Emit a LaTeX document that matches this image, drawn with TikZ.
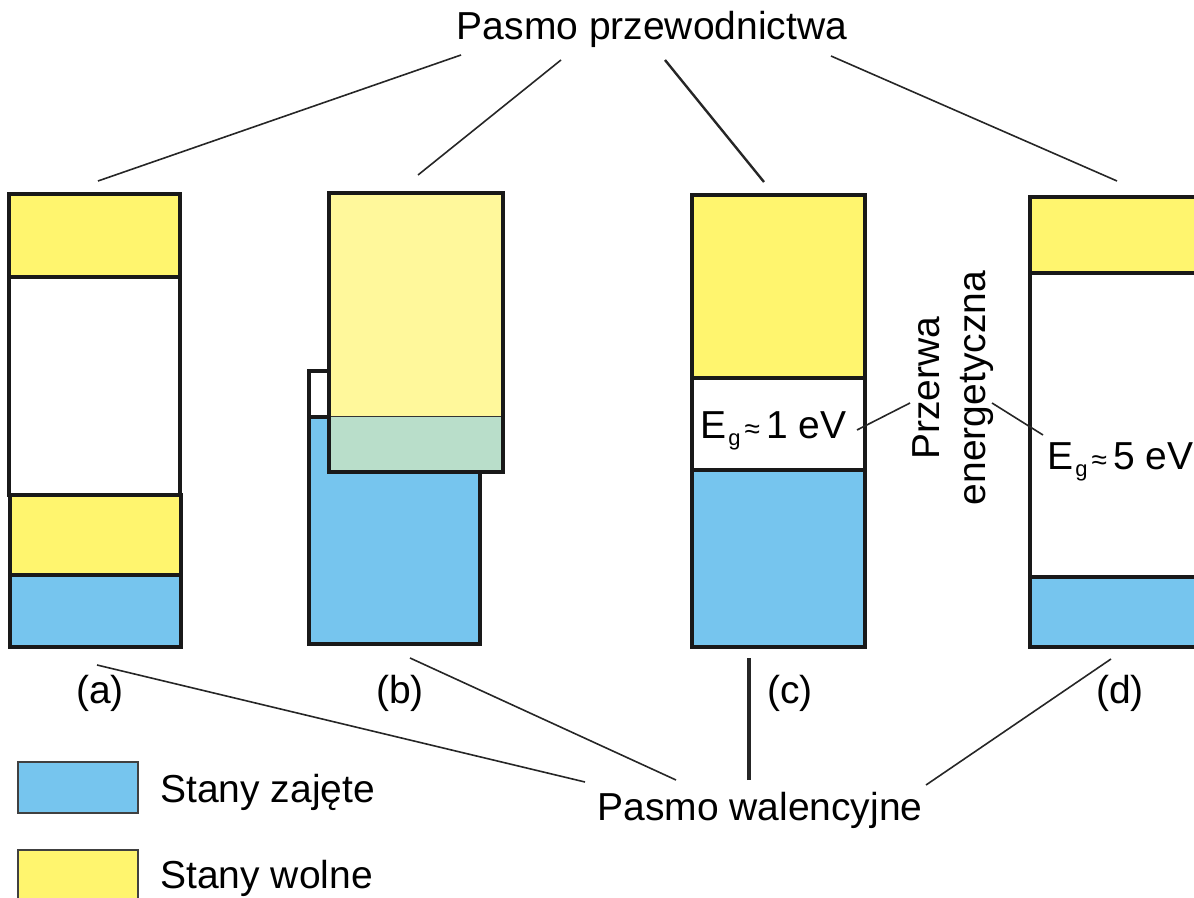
\documentclass[tikz,border=0pt]{standalone}
\usepackage{fontspec}
\setmainfont{Liberation Sans}
\usetikzlibrary{positioning}

\definecolor{freeyellow}{RGB}{255,245,110}
\definecolor{paleyellow}{RGB}{255,248,155}
\definecolor{mixgreen}{RGB}{185,222,202}
\definecolor{fullblue}{RGB}{118,197,238}

\newcommand{\gapsub}{\kern1pt\raisebox{-3.5pt}{\fontsize{11}{11}\selectfont g}\kern2pt{\fontsize{14}{14}\selectfont≈}\kern3pt}

\tikzset{
  band/.style={draw=black!90, line width=1.6pt},
  lead/.style={draw=black!85, line width=0.8pt},
  keybox/.style={draw=black!75, line width=0.8pt},
  txt/.style={font=\fontsize{19.5}{23}\selectfont, inner sep=0pt},
}

\begin{document}
\begin{tikzpicture}[x=0.5pt,y=-0.5pt]
  \clip (0,0) rectangle (1194,898);

  % (a)
  \draw[band, fill=freeyellow] (9,194)  rectangle (180,277);
  \draw[band, fill=white]      (9,277)  rectangle (180,495);
  \draw[band, fill=freeyellow] (10,495) rectangle (181,575);
  \draw[band, fill=fullblue]   (10,575) rectangle (181,647);

  % (b)
  \draw[band, fill=fullblue] (309,417) rectangle (480,644);
  \draw[band, fill=white]    (309,371) rectangle (329,417);
  \fill[paleyellow] (329,193) rectangle (503,417);
  \fill[mixgreen]   (329,417) rectangle (503,472);
  \draw[black!80, line width=0.5pt] (329,417) -- (503,417);
  \draw[band] (329,193) rectangle (503,472);

  % (c)
  \draw[band, fill=freeyellow] (692,195) rectangle (865,378);
  \draw[band, fill=white]      (692,378) rectangle (865,470);
  \draw[band, fill=fullblue]   (692,470) rectangle (865,647);

  % (d)
  \draw[band, fill=freeyellow] (1030,197) rectangle (1215,273);
  \draw[band, fill=white]      (1030,273) rectangle (1215,577);
  \draw[band, fill=fullblue]   (1030,577) rectangle (1215,647);

  % legend
  \draw[keybox, fill=fullblue]   (18,762) rectangle (138,813);
  \draw[keybox, fill=freeyellow] (18,850) rectangle (138,910);
  \node[txt, anchor=base west] (keyfull) at (160,802) {Stany zajęte};
  \node[txt, anchor=base west] (keyfree) at (160,888) {Stany wolne};

  % texts
  \node[txt, anchor=base] (cband) at (652,40)  {Pasmo przewodnictwa};
  \node[txt, anchor=base] (vband) at (760,820) {Pasmo walencyjne};
  \node[txt, anchor=base] (tagA) at (100,703)  {(a)};
  \node[txt, anchor=base] (tagB) at (400,703)  {(b)};
  \node[txt, anchor=base] (tagC) at (790,703)  {(c)};
  \node[txt, anchor=base] (tagD) at (1120,703) {(d)};
  \node[txt, anchor=base west] (gapC) at (700,438) {E\gapsub 1 eV};
  \node[txt, anchor=base west] (gapD) at (1047,470) {E\gapsub 5 eV};
  \node[txt, rotate=90, align=center] (gapname) at (953,388)
    {Przerwa\\energetyczna};

  % leader ends
  \coordinate (cbA) at (461,55);
  \coordinate (cbB) at (561,60);
  \coordinate (cbC) at (665,60);
  \coordinate (cbD) at (831,56);
  \coordinate (topA) at (98,181);
  \coordinate (topB) at (418,175);
  \coordinate (topC) at (764,182);
  \coordinate (topD) at (1117,181);
  \coordinate (vbA) at (585,782);
  \coordinate (vbB) at (676,780);
  \coordinate (vbC) at (749,780);
  \coordinate (vbD) at (926,785);
  \coordinate (botA) at (97,665);
  \coordinate (botB) at (410,658);
  \coordinate (botC) at (749,658);
  \coordinate (botD) at (1111,659);
  \coordinate (egC) at (857,430);
  \coordinate (gnL) at (910,403);
  \coordinate (gnR) at (992,403);
  \coordinate (egD) at (1043,435);

  \draw[lead] (cbA) -- (topA);
  \draw[lead] (cbB) -- (topB);
  \draw[lead, line width=1.2pt] (cbC) -- (topC);
  \draw[lead] (cbD) -- (topD);
  \draw[lead] (vbA) -- (botA);
  \draw[lead] (vbB) -- (botB);
  \draw[lead, line width=1.6pt] (vbC) -- (botC);
  \draw[lead] (vbD) -- (botD);
  \draw[lead] (egC) -- (gnL);
  \draw[lead] (gnR) -- (egD);
\end{tikzpicture}
\end{document}
